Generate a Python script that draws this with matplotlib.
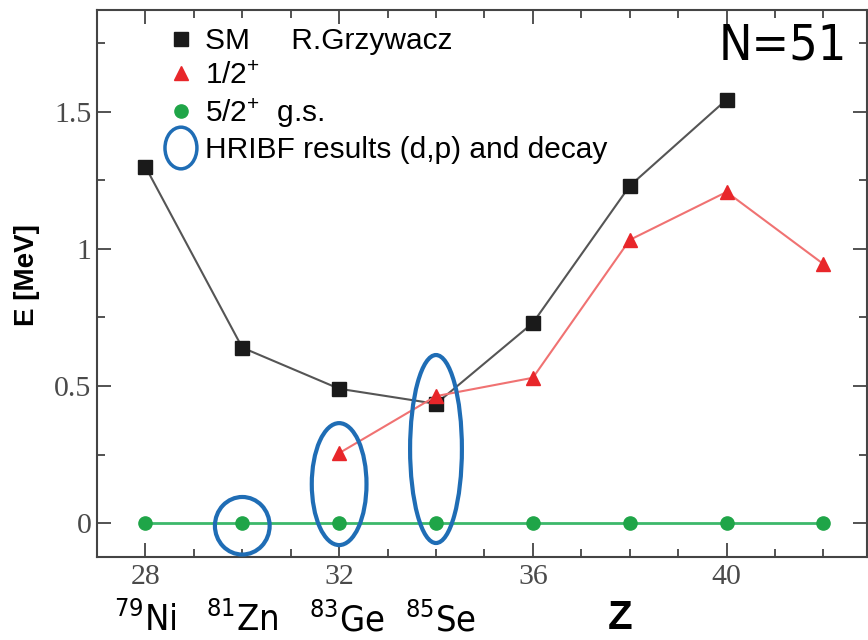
import matplotlib
matplotlib.use("Agg")
import matplotlib.pyplot as plt
import matplotlib.transforms as mtransforms
from matplotlib import font_manager
from matplotlib.patches import Ellipse
from matplotlib.lines import Line2D
from matplotlib.legend_handler import HandlerPatch
from matplotlib.ticker import MultipleLocator, FixedLocator

# data
z_sm = [28, 30, 32, 34, 36, 38, 40]
e_sm = [1.30, 0.64, 0.49, 0.435, 0.73, 1.23, 1.545]

z_half = [32, 34, 36, 38, 40, 42]
e_half = [0.255, 0.463, 0.53, 1.033, 1.208, 0.945]

z_gs = [28, 30, 32, 34, 36, 38, 40, 42]
e_gs = [0, 0, 0, 0, 0, 0, 0, 0]

# HRIBF ellipses: centre Z, centre E, width (Z), height (MeV)
ell_z = [30.0, 32.0, 34.0]
ell_e = [-0.01, 0.142, 0.27]
ell_w = [1.13, 1.13, 1.07]
ell_h = [0.21, 0.445, 0.686]

iso_z = [28, 30, 32.15, 34.1]
iso_labels = ['$^{79}$Ni', '$^{81}$Zn', '$^{83}$Ge', '$^{85}$Se']

xticks = [28, 32, 36, 40]
yticks = [0, 0.5, 1, 1.5]
ytick_labels = ['0', '0.5', '1', '1.5']

# a narrow face for N=51 and the isotope names, if one is there
cond = [f for f in font_manager.fontManager.ttflist
        if f.name == 'DejaVu Sans' and f.stretch == 'condensed' and f.weight in (400, 'normal')]
if cond:
    nfont = dict(family='DejaVu Sans', stretch='condensed')
    iso_size, n_size = 26, 36
else:
    nfont = dict(family='Liberation Sans')
    iso_size, n_size = 24, 32

plt.rcParams['font.family'] = ['Liberation Sans', 'DejaVu Sans']
plt.rcParams['mathtext.fontset'] = 'custom'
plt.rcParams['mathtext.rm'] = 'Liberation Sans'
plt.rcParams['mathtext.default'] = 'regular'

blue = '#1f6db5'

fig = plt.figure(figsize=(8.68, 6.4), dpi=100)
ax = fig.add_axes([97/868, 83/640, 770/868, 547/640])

ax.plot(z_gs, e_gs, color='#3cb86a', lw=2, marker='o', ms=9.5,
        mfc='#1fa548', mec='#1fa548', zorder=2)
ax.plot(z_sm, e_sm, color='#555555', lw=1.5, marker='s', ms=9.5,
        mfc='#1a1a1a', mec='#1a1a1a', zorder=3)
ax.plot(z_half, e_half, color='#f07272', lw=1.5, marker='^', ms=10.5,
        mfc='#e8262a', mec='#e8262a', zorder=4)

for cz, ce, w, h in zip(ell_z, ell_e, ell_w, ell_h):
    ax.add_patch(Ellipse((cz, ce), w, h, fill=False, ec=blue, lw=3, zorder=5))

ax.set_xlim(27.0, 42.9)
ax.set_ylim(-0.124, 1.872)

ax.xaxis.set_major_locator(FixedLocator(xticks))
ax.xaxis.set_minor_locator(MultipleLocator(1))
ax.yaxis.set_major_locator(FixedLocator(yticks))
ax.yaxis.set_minor_locator(MultipleLocator(0.25))
ax.set_xticklabels([str(t) for t in xticks])
ax.set_yticklabels(ytick_labels)
ax.tick_params(which='both', direction='in', top=True, right=True,
               color='#444444', width=1.3, labelsize=21.5, labelcolor='#4a4a4a')
ax.tick_params(which='major', length=10)
ax.tick_params(which='minor', length=6)
ax.tick_params(axis='x', pad=5)
ax.tick_params(axis='y', pad=4)
plt.setp(ax.get_xticklabels() + ax.get_yticklabels(), fontfamily='Liberation Serif')
for sp in ax.spines.values():
    sp.set_color('#444444')
    sp.set_linewidth(1.5)

fig.text(27.5/868, 1 - 275/640, 'E [MeV]', rotation=90, ha='center', va='center',
         fontsize=20, fontweight='bold')

ax.text(0.974, 0.9086, 'N=51', transform=ax.transAxes, ha='right', va='baseline',
        fontsize=n_size, **nfont)

# isotope names under the axis
trans = mtransforms.blended_transform_factory(ax.transData, fig.transFigure)
for z, lab in zip(iso_z, iso_labels):
    ax.text(z, 9/640, lab, transform=trans, ha='center', va='baseline',
            fontsize=iso_size, clip_on=False, **nfont)
ax.text(37.8, 11/640, 'Z', transform=trans, ha='center', va='baseline',
        fontsize=29, fontweight='bold', clip_on=False)


def make_ellipse(legend, orig_handle, xdescent, ydescent, width, height, fontsize):
    return Ellipse((0.5 * width - xdescent, 0.5 * height - ydescent), 23, 30)


handles = [
    Line2D([], [], ls='none', marker='s', ms=9.5, mfc='#1a1a1a', mec='#1a1a1a'),
    Line2D([], [], ls='none', marker='^', ms=10.5, mfc='#e8262a', mec='#e8262a'),
    Line2D([], [], ls='none', marker='o', ms=9.5, mfc='#1fa548', mec='#1fa548'),
    Ellipse((0, 0), 1, 1, fill=False, ec=blue, lw=2.5),
]
labels = ['SM     R.Grzywacz', '1/2$^{+}$', '5/2$^{+}$  g.s.', 'HRIBF results (d,p) and decay']
ax.legend(handles, labels, loc='upper left', bbox_to_anchor=(0.0877, 0.969),
          frameon=False, fontsize=21.5, borderpad=0, borderaxespad=0,
          handlelength=1.1, handletextpad=0.27, labelspacing=0.22,
          handler_map={Ellipse: HandlerPatch(patch_func=make_ellipse)})

fig.savefig('out.png', dpi=100)
